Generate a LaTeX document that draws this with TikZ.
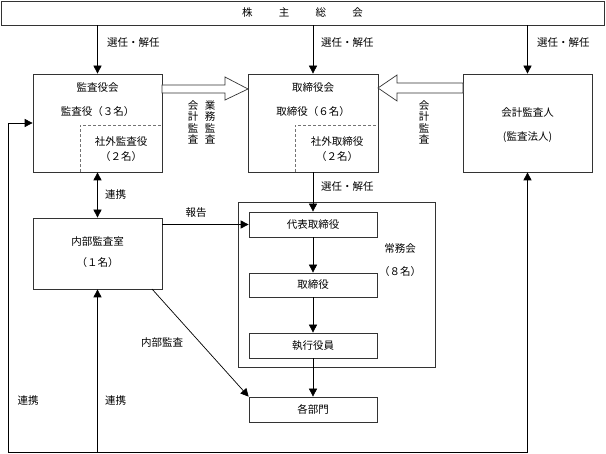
\documentclass[tikz,border=0pt]{standalone}
\usepackage{fontspec}
\setmainfont{Noto Sans CJK JP}
\usetikzlibrary{arrows.meta}

\begin{document}
\begin{tikzpicture}[
    x=1pt, y=-1pt,
    font=\fontsize{10.5}{12}\selectfont,
    box/.style={rectangle, draw=black!80, line width=0.7pt, inner sep=0pt},
    arrow/.style={-{Triangle[length=8pt,width=8pt]}, line width=0.7pt},
    twoway/.style={{Triangle[length=8pt,width=8pt]}-{Triangle[length=8pt,width=8pt]}, line width=0.7pt},
    innerline/.style={draw=black!55, dash pattern=on 3pt off 2pt, line width=0.6pt},
    hollow/.style={draw=black!80, line width=0.7pt, fill=white},
    vtext/.style={font=\fontsize{10.5}{11.5}\selectfont, align=center, inner sep=0pt},
    lbl/.style={inner sep=0pt}
]
\useasboundingbox (0,0) rectangle (606,454);

% Boxes
\node[box, minimum width=603, minimum height=24] (gsm) at (302.5,13) {株\hspace{2.5em}主\hspace{2.5em}総\hspace{2.5em}会};
\node[box, minimum width=129, minimum height=98] (kansa) at (97.5,123) {};
\node[box, minimum width=130, minimum height=98] (board) at (313,123) {};
\node[box, minimum width=129, minimum height=98] (auditor) at (527.5,123) {};
\node[box, minimum width=129, minimum height=71] (internal) at (97.5,253.5) {};
\node[box, minimum width=197, minimum height=165] (jomu) at (336.5,284.5) {};
\node[box, minimum width=128, minimum height=25] (rep) at (313,224.5) {代表取締役};
\node[box, minimum width=128, minimum height=24] (dir) at (313,285) {取締役};
\node[box, minimum width=128, minimum height=25] (exec) at (313,345.5) {執行役員};
\node[box, minimum width=128, minimum height=25] (dept) at (313,409.5) {各部門};

% Texts inside the boxes
\node[lbl] at (97.5,88) {監査役会};
\node[lbl] at (97.5,112) {監査役（３名）};
\node[lbl] at (121,142) {社外監査役};
\node[lbl] at (121,157) {（２名）};
\node[lbl] at (313,88) {取締役会};
\node[lbl] at (313,112) {取締役（６名）};
\node[lbl] at (337,142) {社外取締役};
\node[lbl] at (337,157) {（２名）};
\node[lbl] at (527.5,113) {会計監査人};
\node[lbl] at (527.5,137) {(監査法人)};
\node[lbl] at (97.5,242) {内部監査室};
\node[lbl] at (97.5,263) {（１名）};
\node[lbl] at (400,249) {常務会};
\node[lbl] at (400,272) {（８名）};

% Outside members
\draw[innerline] (80,172) -- (80,125) -- (162,125);
\draw[innerline] (295,172) -- (295,125) -- (378,125);

% Audit arrows
\draw[hollow] (162,85) -- (225,85) -- (225,77) -- (248,89) -- (225,100) -- (225,93) -- (162,93) -- cycle;
\draw[hollow] (463,83) -- (397,83) -- (397,75) -- (378,88) -- (397,101) -- (397,93) -- (463,93) -- cycle;
\node[vtext] at (193,122.5) {会\\計\\監\\査};
\node[vtext] at (210,122.5) {業\\務\\監\\査};
\node[vtext] at (424,122.5) {会\\計\\監\\査};

% Connections
\draw[arrow] (gsm.south -| kansa.north) -- (kansa.north);
\draw[arrow] (gsm.south -| board.north) -- (board.north);
\draw[arrow] (gsm.south -| auditor.north) -- (auditor.north);
\draw[arrow] (board.south) -- (rep.north);
\draw[arrow] (rep.south) -- (dir.north);
\draw[arrow] (dir.south) -- (exec.north);
\draw[arrow] (exec.south) -- (dept.north);
\draw[twoway] (kansa.south) -- (internal.north);
\draw[arrow] (internal.east |- rep.west) -- (rep.west);
\draw[arrow] (152,289) -- (dept.north west);
\coordinate (lc) at (8,452);
\draw[twoway] (kansa.west) -| (lc) -| (auditor.south);
\draw[arrow] (internal.south |- lc) -- (internal.south);

% Labels
\node[lbl, anchor=west] at (107,43) {選任・解任};
\node[lbl, anchor=west] at (321,43) {選任・解任};
\node[lbl, anchor=west] at (537,43) {選任・解任};
\node[lbl, anchor=west] at (321,187) {選任・解任};
\node[lbl, anchor=west] at (105,195) {連携};
\node[lbl] at (196,213) {報告};
\node[lbl] at (162,343) {内部監査};
\node[lbl, anchor=west] at (105,401) {連携};
\node[lbl] at (28,401) {連携};
\end{tikzpicture}
\end{document}
